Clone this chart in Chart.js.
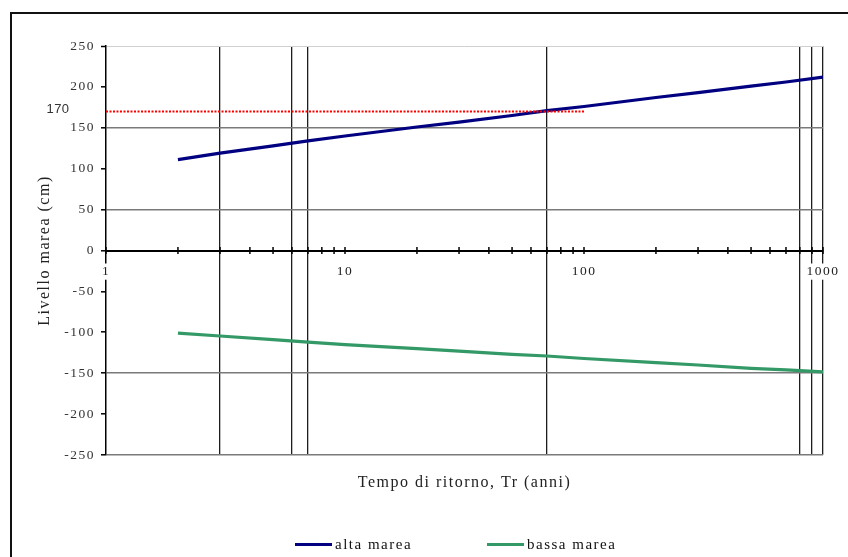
<!DOCTYPE html>
<html lang="it">
<head>
<meta charset="utf-8">
<title>Livello marea - tempo di ritorno</title>
<script src="https://cdn.jsdelivr.net/npm/chart.js@4.4.1/dist/chart.umd.min.js"></script>
<style>
  html, body { margin: 0; padding: 0; background: #fff; }
  #wrap { position: relative; width: 848px; height: 557px; overflow: hidden; }
  #cornice {
    position: absolute; left: 10px; top: 12px; width: 900px; height: 600px;
    border-top: 2px solid #111; border-left: 2px solid #111;
  }
  #grafico { position: absolute; left: 0; top: 0; }
  .voce {
    position: absolute; top: 535px; height: 18px;
    display: flex; align-items: center;
    font: 15px "Liberation Serif", serif; letter-spacing: 1.5px; color: #111;
    white-space: nowrap;
  }
  .voce:nth-child(1) { left: 295px; }
  .voce:nth-child(2) { left: 487px; }
  .voce .linea { display: inline-block; width: 37px; height: 3px; margin-right: 3px; }
</style>
</head>
<body>
<div id="wrap">
  <div id="cornice"></div>
  <canvas id="grafico" width="848" height="557"></canvas>
  <div id="legenda"></div>
</div>

<script>
// ------------------------------------------------------------
// DATI
// ------------------------------------------------------------
const tempiRitorno = [2, 3, 5, 7, 10, 20, 30, 50, 70, 100, 200, 300, 500, 700, 1000];
const altaMarea = [111, 119, 128, 134, 140, 151, 157, 165, 171, 176, 187, 193, 201, 206, 212];
const bassaMarea = [-101, -104.5, -109, -112, -115, -120, -123, -127, -129, -132, -137, -140, -144, -146, -148.5];

// soglia di riferimento (linea rossa tratteggiata)
const soglia = 170;
const sogliaX = [1, 100];

// tacche e etichette asse x (log)
const xTacche = [1, 2, 3, 4, 5, 6, 7, 8, 9, 10, 20, 30, 40, 50, 60, 70, 80, 90,
  100, 200, 300, 400, 500, 600, 700, 800, 900, 1000];
const xEtichette = [1, 10, 100, 1000];

// linee della griglia visibili
const xGriglia = [3, 6, 7, 70, 800, 900, 1000];
const yGriglia = [150, 50, -150, -250];

const SERIF = "'Liberation Serif', 'Times New Roman', serif";

// ------------------------------------------------------------
// PLUGIN: spaziatura testo, tacche sull'asse, etichetta 170
// ------------------------------------------------------------
const decorazioni = {
  id: "decorazioni",
  beforeLayout(chart) { chart.ctx.letterSpacing = "1.5px"; },
  beforeDraw(chart) { chart.ctx.letterSpacing = "1.5px"; },
  afterDraw(chart) {
    const { ctx, scales: { x, y } } = chart;
    const y0 = y.getPixelForValue(0);
    ctx.save();
    ctx.strokeStyle = "#000";
    ctx.lineWidth = 1.5;
    for (const t of x.ticks) {
      const px = x.getPixelForValue(t.value);
      ctx.beginPath();
      ctx.moveTo(px, y0 - 3.5);
      ctx.lineTo(px, y0 + 3.5);
      ctx.stroke();
    }
    ctx.letterSpacing = "0.5px";
    ctx.font = "13px 'Liberation Sans', Arial, sans-serif";
    ctx.fillStyle = "#333";
    ctx.textAlign = "center";
    ctx.textBaseline = "middle";
    ctx.fillText(String(soglia), chart.chartArea.left - 48, y.getPixelForValue(soglia) - 2);
    ctx.restore();
  },
};

const punti = (xs, ys) => xs.map((v, i) => ({ x: v, y: ys[i] }));

const grafico = new Chart(document.getElementById("grafico"), {
  type: "line",
  data: {
    datasets: [
      {
        label: "alta marea",
        data: punti(tempiRitorno, altaMarea),
        borderColor: "#000080",
        backgroundColor: "#000080",
        borderWidth: 3.2,
        pointRadius: 0,
        order: 1,
      },
      {
        label: "bassa marea",
        data: punti(tempiRitorno, bassaMarea),
        borderColor: "#339966",
        backgroundColor: "#339966",
        borderWidth: 3.2,
        pointRadius: 0,
        order: 2,
      },
      {
        label: "soglia",
        data: sogliaX.map((v) => ({ x: v, y: soglia })),
        borderColor: "#ff0000",
        borderWidth: 2,
        borderDash: [2, 1.5],
        pointRadius: 0,
        order: 0,
      },
    ],
  },
  options: {
    responsive: false,
    animation: false,
    devicePixelRatio: 1,
    layout: { padding: { top: 46, right: 25, bottom: 0, left: 0 } },
    plugins: {
      legend: { display: false },
      tooltip: { enabled: false },
      title: {
        display: true,
        text: "Tempo di ritorno, Tr (anni)",
        position: "bottom",
        fullSize: false,
        weight: 500,
        color: "#222",
        font: { family: SERIF, size: 16, weight: "normal" },
        padding: { top: 18, bottom: 64.8 },
      },
    },
    scales: {
      x: {
        type: "logarithmic",
        position: { y: 0 },
        min: 1,
        max: 1000,
        afterBuildTicks: (scale) => { scale.ticks = xTacche.map((v) => ({ value: v })); },
        afterFit: (scale) => {
          scale.height = 0;
          scale.paddingLeft = 0;
          scale.paddingRight = 0;
        },
        border: { display: true, color: "#000", width: 2 },
        grid: {
          drawTicks: false,
          color: (c) => (xGriglia.includes(c.tick?.value) ? "#1e1e1e" : "rgba(0,0,0,0)"),
          lineWidth: 1.3,
        },
        ticks: {
          z: 1,
          autoSkip: false,
          maxRotation: 0,
          padding: 13,
          color: "#222",
          font: { family: SERIF, size: 13.5 },
          showLabelBackdrop: true,
          backdropPadding: { x: 1, y: 0 },
          backdropColor: (c) => (xEtichette.includes(c.tick?.value) ? "#fff" : "rgba(0,0,0,0)"),
          callback: (v) => (xEtichette.includes(v) ? String(v) : ""),
        },
      },
      y: {
        min: -250,
        max: 250,
        afterFit: (scale) => { scale.width = 106; },
        border: { color: "#000", width: 1.5 },
        grid: {
          color: (c) => {
            const v = c.tick?.value;
            if (v === 250) return "#d0d0d0";
            return yGriglia.includes(v) ? "#7a7a7a" : "rgba(0,0,0,0)";
          },
          lineWidth: (c) => (c.tick?.value === 250 ? 1 : 1.6),
          tickColor: "#000",
          tickLength: 5,
          tickWidth: 1.5,
        },
        ticks: {
          stepSize: 50,
          padding: 6,
          color: "#333",
          font: { family: SERIF, size: 13.5 },
        },
        title: {
          display: true,
          text: "Livello marea (cm)",
          color: "#222",
          font: { family: SERIF, size: 16 },
          padding: { top: 35, bottom: 0 },
        },
      },
    },
  },
  plugins: [decorazioni],
});

// ------------------------------------------------------------
// LEGENDA HTML
// ------------------------------------------------------------
const legenda = document.getElementById("legenda");
grafico.data.datasets
  .filter((d) => d.label !== "soglia")
  .forEach((d) => {
    const voce = document.createElement("div");
    voce.className = "voce";
    const linea = document.createElement("span");
    linea.className = "linea";
    linea.style.background = d.borderColor;
    voce.appendChild(linea);
    voce.appendChild(document.createTextNode(d.label));
    legenda.appendChild(voce);
  });
</script>
</body>
</html>
